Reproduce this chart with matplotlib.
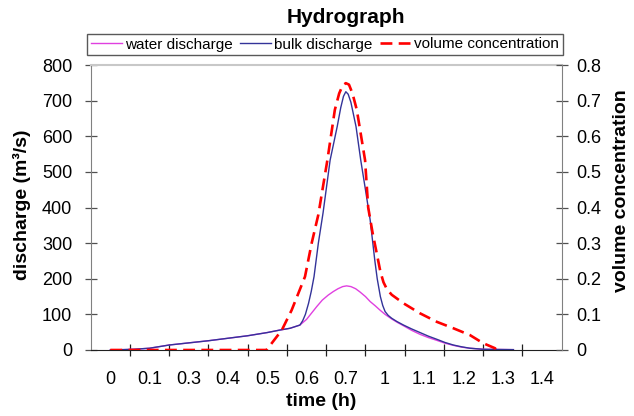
import matplotlib
matplotlib.use("Agg")
import matplotlib.pyplot as plt
from matplotlib.ticker import FixedLocator

plt.rcParams['font.family'] = ['Liberation Sans', 'DejaVu Sans']

# category labels on the x axis
time_labels = ["0", "0.1", "0.3", "0.4", "0.5", "0.6", "0.7", "1", "1.1", "1.2", "1.3", "1.4"]

# positions in category units (0 = first category centre)
water_x = [0, 0.6, 1.0, 1.5, 2.0, 2.5, 3.0, 3.5, 4.0, 4.32, 4.58, 4.83, 5.0, 5.13, 5.26, 5.4, 5.55,
           5.68, 5.8, 5.92, 6.02, 6.13, 6.25, 6.36, 6.5, 6.62, 6.75, 6.87, 7.0, 7.17, 7.32, 7.47,
           7.68, 7.89, 8.1, 8.32, 8.53, 8.74, 8.95, 9.16, 9.5, 10.27]
water_q = [0, 2, 5, 14, 20, 26, 33, 40, 49, 56, 61, 70, 86, 104, 122, 140, 154,
           164, 172, 178, 180, 178, 172, 163, 150, 136, 124, 112, 100, 87, 77, 68,
           55, 44, 35, 27, 19, 13, 8, 5, 2, 1]

bulk_x = [0, 0.6, 1.0, 1.5, 2.0, 2.5, 3.0, 3.5, 4.0, 4.32, 4.58, 4.83, 4.9, 4.97, 5.05, 5.12, 5.19,
          5.30, 5.42, 5.6, 5.78, 5.87, 5.94, 6.0, 6.06, 6.13, 6.26, 6.38, 6.5, 6.62, 6.74, 6.8,
          6.88, 6.94, 7.0, 7.08, 7.17, 7.3, 7.47, 7.68, 7.89, 8.1, 8.32, 8.53, 8.74, 8.95, 9.16,
          9.5, 10.27]
bulk_q = [0, 2, 5, 14, 20, 26, 33, 40, 49, 56, 61, 70, 82, 100, 131, 165, 206,
          300, 385, 533, 627, 680, 712, 725, 718, 695, 627, 533, 450, 365, 250, 200,
          150, 125, 108, 97, 89, 80, 70, 59, 49, 39, 30, 21, 14, 9, 5,
          2, 1]

conc_x = [0, 3.98, 4.37, 4.62, 4.96, 5.13, 5.30, 5.53, 5.72, 5.83, 5.92, 6.0, 6.08, 6.17, 6.28,
          6.49, 6.57, 6.68, 6.79, 6.88, 6.96, 7.05, 7.17, 7.47, 7.89, 8.32, 8.74, 9.16, 9.5,
          9.8, 9.84]
conc_c = [0, 0, 0.056, 0.112, 0.206, 0.30, 0.38, 0.533, 0.674, 0.72, 0.743, 0.749, 0.745, 0.72,
          0.674, 0.533, 0.40, 0.33, 0.27, 0.22, 0.19, 0.17, 0.155, 0.131, 0.103, 0.079, 0.061,
          0.042, 0.019, 0.005, 0]

q_ticks = [0, 100, 200, 300, 400, 500, 600, 700, 800]
c_ticks = [0, 0.1, 0.2, 0.3, 0.4, 0.5, 0.6, 0.7, 0.8]
c_tick_labels = ["0", "0.1", "0.2", "0.3", "0.4", "0.5", "0.6", "0.7", "0.8"]

W, H = 634, 416
fig = plt.figure(figsize=(W / 100, H / 100), dpi=100)
L, R, T, B = 90.7, 561.7, 65, 350
ax = fig.add_axes([L / W, 1 - B / H, (R - L) / W, (B - T) / H])
ax2 = ax.twinx()

l1, = ax.plot(water_x, water_q, color='#e040e0', lw=1.0, label='water discharge')
l2, = ax.plot(bulk_x, bulk_q, color='#333399', lw=1.0, label='bulk discharge')
l3, = ax2.plot(conc_x, conc_c, color='#ff0000', lw=1.9, dashes=[4.5, 2.4], label='volume concentration')

n = len(time_labels)
ax.set_xlim(-0.5, n - 0.5)
ax.set_ylim(0, 800)
ax2.set_ylim(0, 0.8)

ax.set_xticks(range(n))
ax.set_xticklabels(time_labels, fontsize=13)
ax.tick_params(axis='x', which='major', length=0, pad=15)
ax.xaxis.set_minor_locator(FixedLocator([i + 0.5 for i in range(n - 1)]))
ax.tick_params(axis='x', which='minor', direction='inout', length=8.6, width=0.9, color='#202020')

ax.set_yticks(q_ticks)
ax.set_yticklabels([str(v) for v in q_ticks], fontsize=13)
ax.tick_params(axis='y', direction='inout', length=8.6, width=0.9, color='#505050', pad=9)

ax2.set_yticks(c_ticks)
ax2.set_yticklabels(c_tick_labels, fontsize=13)
ax2.tick_params(axis='y', direction='inout', length=8.6, width=0.9, color='#505050', pad=6.5)

for a in (ax, ax2):
    for s in a.spines.values():
        s.set_visible(False)
ax.spines['left'].set_visible(True)
ax.spines['left'].set_color('#808080')
ax.spines['bottom'].set_visible(True)
ax.spines['bottom'].set_color('#202020')
ax.spines['top'].set_visible(True)
ax.spines['top'].set_color('#c8c8c8')
ax.spines['top'].set_linewidth(1.5)
ax2.spines['right'].set_visible(True)
ax2.spines['right'].set_color('#808080')

fig.text(346 / W, 1 - 17.5 / H, 'Hydrograph', ha='center', va='center', fontsize=15, fontweight='bold')
fig.text(321 / W, 1 - 402 / H, 'time (h)', ha='center', va='center', fontsize=14, fontweight='bold')
fig.text(22 / W, 1 - 205 / H, 'discharge (m³/s)', ha='center', va='center', rotation=90,
         fontsize=14, fontweight='bold')
fig.text(622 / W, 1 - 191 / H, 'volume concentration', ha='center', va='center', rotation=90,
         fontsize=14, fontweight='bold')

leg = fig.legend(handles=[l1, l2, l3], loc='center', bbox_to_anchor=(325 / W, 1 - 44.5 / H),
                 ncol=3, fontsize=11, frameon=True, fancybox=False, edgecolor='#303030',
                 handlelength=2.0, handletextpad=0.25, columnspacing=0.45, borderpad=0.25,
                 borderaxespad=0)
leg.get_frame().set_linewidth(1.0)

fig.savefig('out.png', dpi=100)
